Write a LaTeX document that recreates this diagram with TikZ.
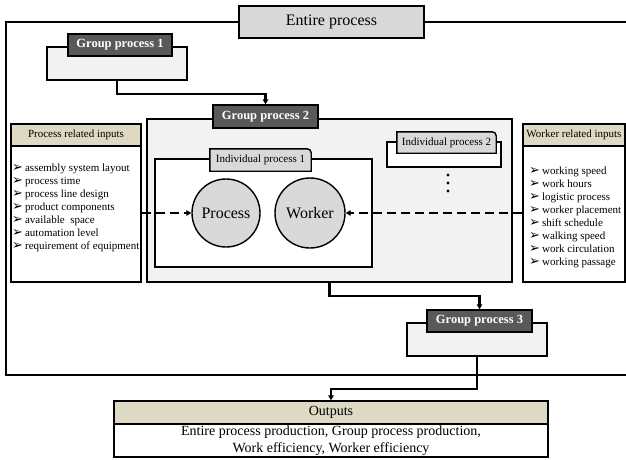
\documentclass[tikz,border=0pt]{standalone}
\usepackage{fontspec}
\setmainfont{Liberation Serif}
\newfontfamily\dejavu{DejaVu Sans}
\usetikzlibrary{arrows.meta,calc}
\definecolor{darkbox}{HTML}{595959}
\definecolor{panelgray}{HTML}{F2F2F2}
\definecolor{lgray}{HTML}{D9D9D9}
\definecolor{beige}{HTML}{DDD9C3}
\newcommand{\itm}{{\dejavu\fontsize{13}{13}\selectfont ➢}\hspace{2pt}}
\tikzset{
  box/.style={draw=black, line width=1.4pt, inner sep=0pt, rectangle},
  panelbox/.style={box, fill=panelgray},
  darkgp/.style={box, fill=darkbox, text=white, font=\fontsize{12.5}{14}\selectfont\bfseries},
  whitebox/.style={box, fill=white},
  hdr/.style={box, fill=beige, font=\fontsize{11}{13}\selectfont},
  tabtext/.style={inner sep=0pt, font=\fontsize{11}{13}\selectfont},
  tabshape/.style={draw=black, line width=1.4pt, fill=lgray},
  circ/.style={circle, draw=black, line width=1.4pt, fill=lgray, minimum size=68pt, inner sep=0pt, font=\fontsize{16}{19}\selectfont},
  itemlist/.style={inner sep=0pt, align=left, font=\fontsize{11}{13}\selectfont},
  flow/.style={draw=black, line width=2.2pt, -{Triangle[length=5pt,width=5.5pt]}},
  dflow/.style={draw=black, line width=2.4pt, dash pattern=on 9pt off 5pt, -{Triangle[length=5pt,width=5.5pt]}},
  dotn/.style={circle, fill=black, inner sep=0pt, minimum size=3.2pt}
}
\begin{document}
\begin{tikzpicture}[x=1pt,y=-1pt]
\useasboundingbox (0,0) rectangle (626,460);
\clip (0,0) rectangle (626,460);
\fill[white] (0,0) rectangle (626,460);

% entire process frame
\node[box, minimum width=624pt, minimum height=353pt] (frame) at (318,198.5) {};
\node[box, fill=lgray, minimum width=185pt, minimum height=32pt, font=\fontsize{16}{19}\selectfont] (title) at (331.5,22) {Entire process};

% group process 1
\node[panelbox, minimum width=140pt, minimum height=33pt] (gp1p) at (117,63.5) {};
\node[darkgp, minimum width=104pt, minimum height=22pt] (gp1) at (120,45) {Group process 1};

% group process 2
\node[panelbox, minimum width=365pt, minimum height=163pt] (gp2p) at (329.5,200.5) {};
\node[whitebox, minimum width=217pt, minimum height=108pt] (ip1) at (263.5,213) {};
\node[tabtext, minimum width=101pt, minimum height=22pt] (ip1l) at (260.5,160) {};
\draw[tabshape] (ip1l.south west) -- (ip1l.north west) [rounded corners=4pt] -- (ip1l.north east) [sharp corners] -- (ip1l.south east) -- cycle;
\node[tabtext] at (ip1l) {Individual process 1};
\node[whitebox, minimum width=114pt, minimum height=25pt] (ip2) at (444,154.5) {};
\node[tabtext, minimum width=99pt, minimum height=21pt] (ip2l) at (446.5,142.5) {};
\draw[tabshape] (ip2l.south west) -- (ip2l.north west) [rounded corners=4pt] -- (ip2l.north east) [sharp corners] -- (ip2l.south east) -- cycle;
\node[tabtext] at (ip2l) {Individual process 2};
\node[dotn] (d1) at (448,175) {};
\node[dotn] (d2) at (448,183) {};
\node[dotn] (d3) at (448,191) {};
\node[circ] (proc) at (226,213) {Process};
\node[circ, minimum size=70pt] (work) at (310,213) {Worker};
\node[darkgp, minimum width=105pt, minimum height=23pt] (gp2) at (265.5,116.5) {Group process 2};

% inputs
\node[hdr, minimum width=130pt, minimum height=22pt] (pinh) at (76,135) {Process related inputs};
\node[whitebox, minimum width=130pt, minimum height=136pt] (pinb) at (76,214) {};
\node[itemlist, anchor=north west] (pinl) at (12,164) {\itm assembly system layout\\ \itm process time\\ \itm process line design\\ \itm product components\\ \itm available\ \ space\\ \itm automation level\\ \itm requirement of equipment};
\node[hdr, minimum width=102pt, minimum height=22pt] (winh) at (574,135) {Worker related inputs};
\node[whitebox, minimum width=102pt, minimum height=136pt] (winb) at (574,214) {};
\node[itemlist, anchor=north west] (winl) at (529,166.5) {\itm working speed\\ \itm work hours\\ \itm logistic process\\ \itm worker placement\\ \itm shift schedule\\ \itm walking speed\\ \itm work circulation\\ \itm working passage};

\draw[dflow] (proc.west -| pinb.east) -- (proc.west);
\draw[dflow] (work.east -| winb.west) -- (work.east);

% group process 3
\node[panelbox, minimum width=140pt, minimum height=33pt] (gp3p) at (477,339.5) {};
\node[darkgp, minimum width=105pt, minimum height=22pt] (gp3) at (479.5,321) {Group process 3};

% outputs
\node[hdr, minimum width=434pt, minimum height=23pt, font=\fontsize{14}{17}\selectfont] (outh) at (331,412.5) {Outputs};
\node[whitebox, minimum width=434pt, minimum height=33pt, align=center, font=\fontsize{14}{17}\selectfont] (outb) at (331,440.5) {Entire process production, Group process production,\\ Work efficiency, Worker efficiency};

% flows
\draw[flow] (gp1p.south) -- ++(0,13) -| (gp2.north);
\draw[flow] (gp2p.south) -- ++(0,13) -| (gp3.north);
\draw[flow] (gp3p.south) -- ++(0,32) -| (outh.north);
\end{tikzpicture}
\end{document}
